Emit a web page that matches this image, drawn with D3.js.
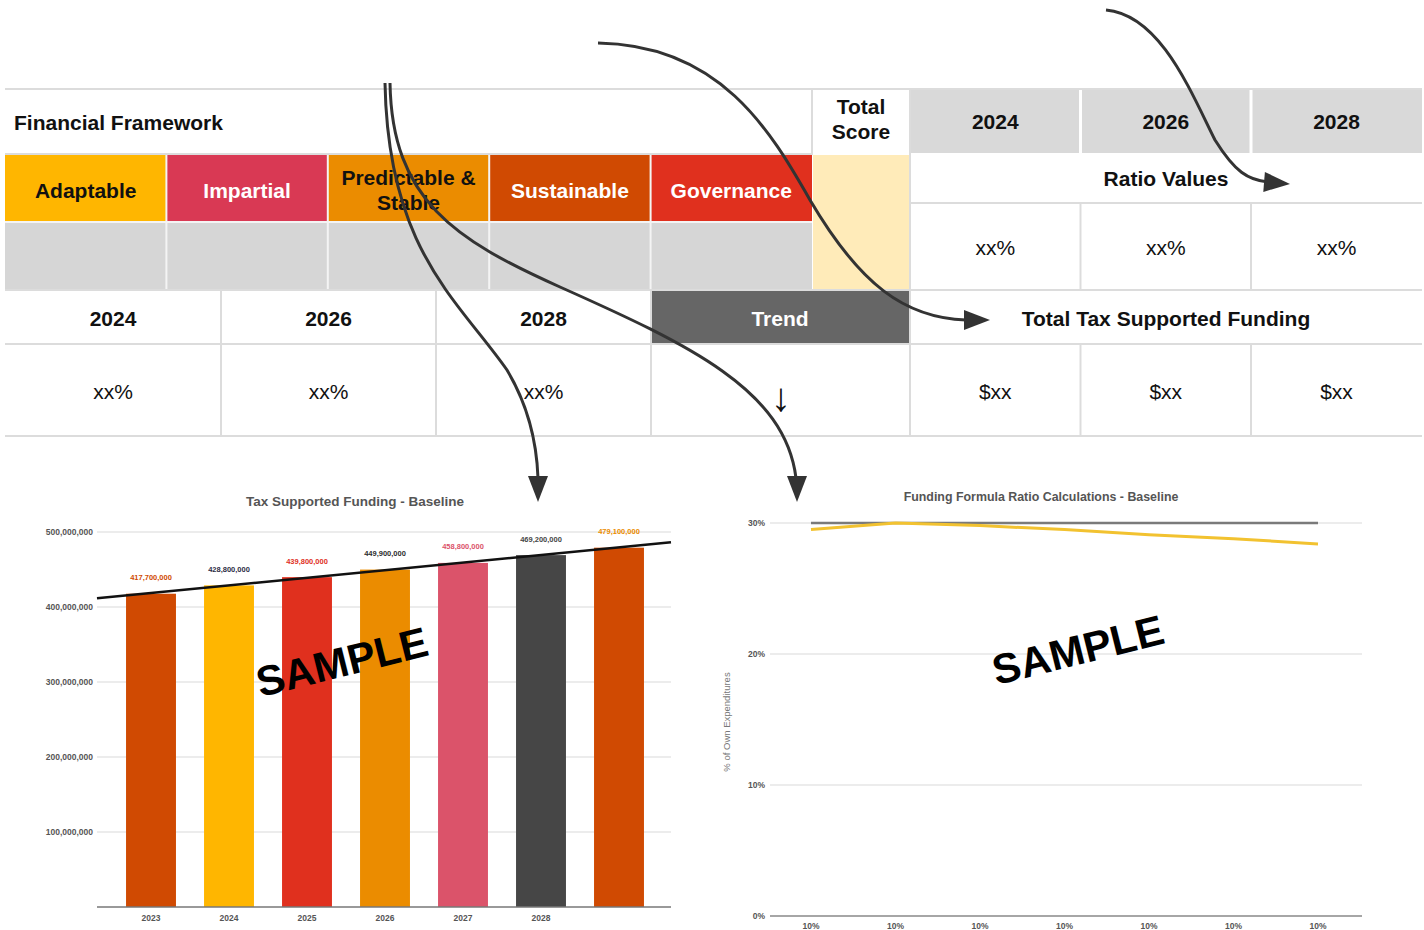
<!DOCTYPE html>
<html>
<head>
<meta charset="utf-8">
<script src="https://cdn.jsdelivr.net/npm/d3@7"></script>
<style>
  html, body { margin: 0; padding: 0; background: #fff; }
  svg { display: block; font-family: "Liberation Sans", Arial, sans-serif; }
</style>
</head>
<body>
<svg id="page" width="1424" height="930"></svg>
<script>
// ---- Framework table content ----
const pillars = ["Adaptable", "Impartial", "Predictable & Stable", "Sustainable", "Governance"];
const pillarColors = ["#ffb600", "#d93954", "#eb8c00", "#d04a02", "#e0301e"];
const pillarText = ["#111", "#fff", "#111", "#fff", "#fff"];
const tableYears = ["2024", "2026", "2028"];
const ratioPlaceholders = ["xx%", "xx%", "xx%"];
const scorePlaceholders = ["xx%", "xx%", "xx%"];
const fundingPlaceholders = ["$xx", "$xx", "$xx"];

// ---- Tax Supported Funding - Baseline ----
const barYears = ["2023", "2024", "2025", "2026", "2027", "2028", ""];
const barValues = [417700000, 428800000, 439800000, 449900000, 458800000, 469200000, 479100000];
const barColors = ["#d04a02", "#ffb600", "#e0301e", "#eb8c00", "#db536a", "#464646", "#d04a02"];
const barLabelColors = ["#d04a02", "#2d2d45", "#e0301e", "#2d2d2d", "#db536a", "#464646", "#eb8c00"];
const barTicks = [0, 100000000, 200000000, 300000000, 400000000, 500000000];

// ---- Funding Formula Ratio Calculations - Baseline ----
const ratioXLabels = ["10%", "10%", "10%", "10%", "10%", "10%", "10%"];
const ratioTarget = [0.30, 0.30, 0.30, 0.30, 0.30, 0.30, 0.30];
const ratioActual = [0.295, 0.300, 0.298, 0.295, 0.291, 0.288, 0.284];
const ratioTicks = [0, 0.1, 0.2, 0.3];

const svg = d3.select("#page");
const grid = "#dcdcdc";
const FS = 21;

// ================= TABLE =================
const T = svg.append("g");
function cell(x0, y0, x1, y1, fill) {
  T.append("rect").attr("x", x0).attr("y", y0).attr("width", x1 - x0).attr("height", y1 - y0).attr("fill", fill);
}
function label(x, y, txt, opts = {}) {
  return T.append("text").attr("x", x).attr("y", y)
    .attr("text-anchor", opts.anchor || "middle")
    .attr("dominant-baseline", "central")
    .attr("font-size", opts.size || FS)
    .attr("font-weight", opts.weight || "bold")
    .attr("fill", opts.fill || "#111")
    .text(txt);
}

// column edges
const pillarEdges = d3.range(pillars.length + 1).map(i => 5 + i * (807 / pillars.length));
const rightEdges = [910, 1080.5, 1251, 1422];
const lowerEdges = [5, 221, 436, 651];

// header row
label(14, 122, "Financial Framework", { anchor: "start" });
label(861, 106, "Total");
label(861, 131, "Score");
tableYears.forEach((yr, i) => {
  cell(rightEdges[i], 89, rightEdges[i + 1], 153, "#d9d9d9");
  label((rightEdges[i] + rightEdges[i + 1]) / 2, 121, yr);
});
// white separators between year header cells
rightEdges.slice(1, 3).forEach(x => T.append("line").attr("x1", x).attr("x2", x).attr("y1", 89).attr("y2", 153).attr("stroke", "#fff").attr("stroke-width", 3));

// pillar row
pillars.forEach((p, i) => {
  const x0 = pillarEdges[i], x1 = pillarEdges[i + 1];
  cell(x0, 155, x1, 222, pillarColors[i]);
  cell(x0, 222, x1, 290, "#d6d6d6");
  const cx = (x0 + x1) / 2;
  if (p.includes("&")) {
    label(cx, 177, "Predictable &", { fill: pillarText[i] });
    label(cx, 202, "Stable", { fill: pillarText[i] });
  } else {
    label(cx, 190, p, { fill: pillarText[i] });
  }
});
pillarEdges.slice(1, pillars.length).forEach(x => {
  T.append("line").attr("x1", x).attr("x2", x).attr("y1", 155).attr("y2", 290).attr("stroke", "#f4f4f4").attr("stroke-width", 2);
});
T.append("line").attr("x1", 5).attr("x2", 812).attr("y1", 222).attr("y2", 222).attr("stroke", "#f4f4f4").attr("stroke-width", 2);
cell(813, 155, 909, 290, "#ffebb9");

// ratio values block
label(1166, 178, "Ratio Values");
ratioPlaceholders.forEach((t, i) => label((rightEdges[i] + rightEdges[i + 1]) / 2, 247, t, { weight: "normal" }));

// lower rows
tableYears.forEach((yr, i) => {
  label((lowerEdges[i] + lowerEdges[i + 1]) / 2, 318, yr);
  label((lowerEdges[i] + lowerEdges[i + 1]) / 2, 391, scorePlaceholders[i], { weight: "normal" });
});
cell(652, 291, 909, 344, "#666666");
label(780, 318, "Trend", { fill: "#fff" });
label(1166, 318, "Total Tax Supported Funding");
fundingPlaceholders.forEach((t, i) => label((rightEdges[i] + rightEdges[i + 1]) / 2, 391, t, { weight: "normal" }));
label(781, 397, "↓", { weight: "normal", size: 40 });

// table rules
const hLines = [[5, 1422, 89], [5, 1422, 290], [5, 1422, 344], [5, 1422, 436], [910, 1422, 203], [5, 812, 154]];
hLines.forEach(([a, b, y]) => T.append("line").attr("x1", a).attr("x2", b).attr("y1", y).attr("y2", y).attr("stroke", grid).attr("stroke-width", 2));
const vLines = [[812, 89, 155], [910, 89, 436], [1080.5, 203, 290], [1251, 203, 290], [1080.5, 344, 436], [1251, 344, 436],
  [221, 290, 436], [436, 290, 436], [651, 290, 436]];
vLines.forEach(([x, a, b]) => T.append("line").attr("x1", x).attr("x2", x).attr("y1", a).attr("y2", b).attr("stroke", grid).attr("stroke-width", 2));

// ================= BAR CHART =================
const B = svg.append("g");
const bx = d3.scaleBand().domain(d3.range(barYears.length)).range([112, 658]).paddingInner(0.36).paddingOuter(0.18);
const by = d3.scaleLinear().domain([0, 500000000]).range([907, 532]);
const plotL = 97, plotR = 671;
const fmt = d3.format(",");

B.append("text").attr("x", 355).attr("y", 501).attr("text-anchor", "middle").attr("dominant-baseline", "central")
  .attr("font-size", 13.5).attr("font-weight", "bold").attr("fill", "#555").text("Tax Supported Funding - Baseline");

B.selectAll("line.g").data(barTicks.slice(1)).join("line")
  .attr("x1", plotL).attr("x2", plotR).attr("y1", d => by(d)).attr("y2", d => by(d))
  .attr("stroke", "#e6e6e6").attr("stroke-width", 1.5);
B.selectAll("text.yt").data(barTicks).join("text")
  .attr("x", 93).attr("y", d => by(d)).attr("text-anchor", "end").attr("dominant-baseline", "central")
  .attr("font-size", 8.5).attr("font-weight", "bold").attr("fill", "#555")
  .text(d => d === 0 ? "" : fmt(d));

B.selectAll("rect.bar").data(barValues).join("rect")
  .attr("x", (d, i) => bx(i)).attr("width", bx.bandwidth())
  .attr("y", d => by(d)).attr("height", d => by(0) - by(d))
  .attr("fill", (d, i) => barColors[i]);

B.append("line").attr("x1", plotL).attr("x2", plotR).attr("y1", by(0)).attr("y2", by(0)).attr("stroke", "#777").attr("stroke-width", 1.5);

B.selectAll("text.xl").data(barYears).join("text")
  .attr("x", (d, i) => bx(i) + bx.bandwidth() / 2).attr("y", 918).attr("text-anchor", "middle").attr("dominant-baseline", "central")
  .attr("font-size", 8.5).attr("font-weight", "bold").attr("fill", "#555").text(d => d);

B.selectAll("text.vl").data(barValues).join("text")
  .attr("x", (d, i) => bx(i) + bx.bandwidth() / 2).attr("y", d => by(d) - 16).attr("text-anchor", "middle").attr("dominant-baseline", "central")
  .attr("font-size", 7.5).attr("font-weight", "bold").attr("fill", (d, i) => barLabelColors[i]).text(d => fmt(d));

// linear trend through the bar values, spanning the plot width
const idx = d3.range(barValues.length);
const mx = d3.mean(idx), my = d3.mean(barValues);
const slope = d3.sum(idx, i => (i - mx) * (barValues[i] - my)) / d3.sum(idx, i => (i - mx) ** 2);
const centre = d3.scaleLinear().domain([0, barValues.length - 1])
  .range([bx(0) + bx.bandwidth() / 2, bx(barValues.length - 1) + bx.bandwidth() / 2]);
const trendAt = px => { const i = centre.invert(px); return my + slope * (i - mx); };
B.append("line").attr("x1", plotL).attr("x2", plotR)
  .attr("y1", by(trendAt(plotL))).attr("y2", by(trendAt(plotR)))
  .attr("stroke", "#111").attr("stroke-width", 2.5);

// ================= LINE CHART =================
const L = svg.append("g");
const lx = d3.scalePoint().domain(d3.range(ratioXLabels.length)).range([811, 1318]);
const ly = d3.scaleLinear().domain([0, 0.3]).range([916, 523]);
const pct = d3.format(".0%");

L.append("text").attr("x", 1041).attr("y", 497).attr("text-anchor", "middle").attr("dominant-baseline", "central")
  .attr("font-size", 12.4).attr("font-weight", "bold").attr("fill", "#555").text("Funding Formula Ratio Calculations - Baseline");

L.selectAll("line.g").data(ratioTicks.slice(1)).join("line")
  .attr("x1", 770).attr("x2", 1362).attr("y1", d => ly(d)).attr("y2", d => ly(d))
  .attr("stroke", "#e6e6e6").attr("stroke-width", 1.5);
L.selectAll("text.yt").data(ratioTicks).join("text")
  .attr("x", 765).attr("y", d => ly(d)).attr("text-anchor", "end").attr("dominant-baseline", "central")
  .attr("font-size", 8.5).attr("font-weight", "bold").attr("fill", "#555").text(d => pct(d));
L.append("line").attr("x1", 770).attr("x2", 1362).attr("y1", ly(0)).attr("y2", ly(0)).attr("stroke", "#888").attr("stroke-width", 1.5);
L.selectAll("text.xl").data(ratioXLabels).join("text")
  .attr("x", (d, i) => lx(i)).attr("y", 926).attr("text-anchor", "middle").attr("dominant-baseline", "central")
  .attr("font-size", 8.5).attr("font-weight", "bold").attr("fill", "#555").text(d => d);
L.append("text").attr("transform", "translate(726,722) rotate(-90)").attr("text-anchor", "middle").attr("dominant-baseline", "central")
  .attr("font-size", 9.5).attr("fill", "#777").text("% of Own Expenditures");

const line = d3.line().x((d, i) => lx(i)).y(d => ly(d));
L.append("path").attr("d", line(ratioTarget)).attr("fill", "none").attr("stroke", "#7a7a7a").attr("stroke-width", 2.5);
L.append("path").attr("d", line(ratioActual)).attr("fill", "none").attr("stroke", "#f2c230").attr("stroke-width", 3);

// ================= WATERMARKS =================
[[342, 662], [1078, 650]].forEach(([x, y]) => {
  svg.append("text").attr("transform", `translate(${x},${y}) rotate(-14)`).attr("text-anchor", "middle").attr("dominant-baseline", "central")
    .attr("font-size", 42).attr("font-weight", "bold").attr("fill", "#000").text("SAMPLE");
});

// ================= CALLOUT ARROWS =================
const A = svg.append("g").attr("fill", "none").attr("stroke", "#333").attr("stroke-width", 3);
const arrows = [
  { d: "M385,83 C388,250 458,300 507,370 C531,410 537,450 538,478", tip: [538, 502], dir: [0, 1] },
  { d: "M390,83 C392,200 455,240 560,287 C690,345 785,390 796,478", tip: [797, 502], dir: [0, 1] },
  { d: "M598,43 C720,45 770,130 810,200 C860,285 905,318 966,320", tip: [990, 320], dir: [1, 0] },
  { d: "M1106,10 C1160,15 1190,90 1215,140 C1235,172 1248,180 1268,182", tip: [1290, 184], dir: [1, 0.08] }
];
arrows.forEach(a => {
  A.append("path").attr("d", a.d);
  const [tx, ty] = a.tip; const n = Math.hypot(a.dir[0], a.dir[1]);
  const ux = a.dir[0] / n, uy = a.dir[1] / n;
  const bxp = tx - ux * 26, byp = ty - uy * 26;
  svg.append("path")
    .attr("d", `M${tx},${ty} L${bxp - uy * 10},${byp + ux * 10} L${bxp + uy * 10},${byp - ux * 10} Z`)
    .attr("fill", "#333");
});
</script>
</body>
</html>
